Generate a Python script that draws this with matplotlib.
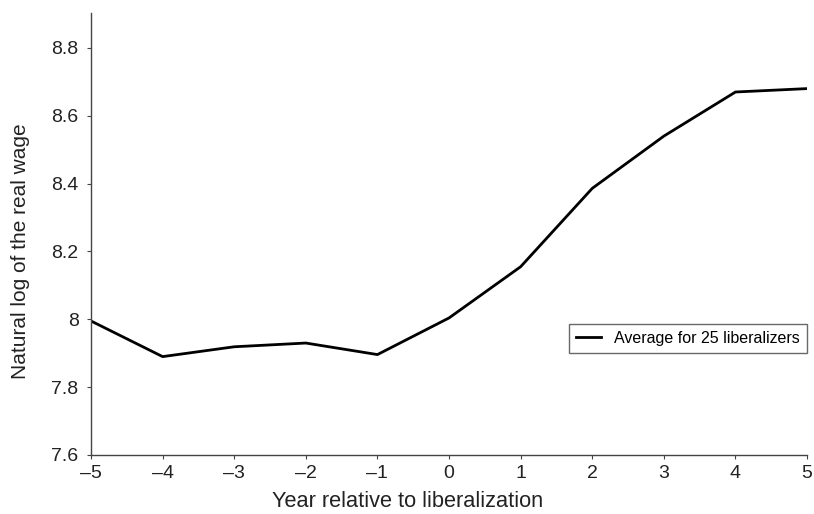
from matplotlib import pyplot as plt

plt.rc("font", family=["Liberation Sans", "DejaVu Sans"], size=14)

years = [-5, -4, -3, -2, -1, 0, 1, 2, 3, 4, 5]
log_wage = [7.995, 7.890, 7.919, 7.930, 7.896, 8.004, 8.155, 8.386, 8.540, 8.670, 8.680]
y_ticks = [7.6, 7.8, 8.0, 8.2, 8.4, 8.6, 8.8]
y_labels = ["7.6", "7.8", "8", "8.2", "8.4", "8.6", "8.8"]
x_labels = ["\u2013" + str(-v) if v < 0 else str(v) for v in years]

fig = plt.figure(figsize=(8.14, 5.14), dpi=100)
ax = fig.add_axes([0.1118, 0.1148, 0.8797, 0.86])

ax.plot(years, log_wage, color="black", lw=2.0, label="Average for 25 liberalizers")

ax.set_xlim(-5, 5)
ax.set_ylim(7.6, 8.903)
ax.set_xticks(years)
ax.set_xticklabels(x_labels)
ax.set_yticks(y_ticks)
ax.set_yticklabels(y_labels)

for s in ["top", "right"]:
    ax.spines[s].set_visible(False)
for s in ["left", "bottom"]:
    ax.spines[s].set_color("#444444")
    ax.spines[s].set_linewidth(1.0)
ax.tick_params(colors="#444444", labelcolor="#222222", length=3, width=0.8, labelsize=14)
ax.tick_params(axis="y", pad=6)
ax.tick_params(axis="x", pad=4)

ax.set_xlabel("Year relative to liberalization", fontsize=15.7, color="#222222",
              labelpad=7, x=0.442)
ax.set_ylabel("Natural log of the real wage", fontsize=15, color="#222222",
              labelpad=15, y=0.4615)

leg = ax.legend(loc="center right", bbox_to_anchor=(1.0, 0.2635), fontsize=11.5,
                frameon=True, fancybox=False, handlelength=1.6, borderpad=0.45,
                borderaxespad=0)
leg.get_frame().set_edgecolor("#444444")
leg.get_frame().set_linewidth(1.0)

fig.savefig("out.png", dpi=100)
